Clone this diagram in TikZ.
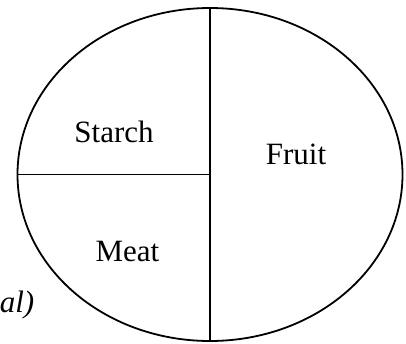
\documentclass[tikz,border=0pt]{standalone}
\usepackage{fontspec}
\setmainfont{Liberation Serif}
\usetikzlibrary{shapes.geometric}
\begin{document}
\begin{tikzpicture}[x=1pt,y=-1pt,
  outline/.style={line width=1.8pt,draw=black},
  label/.style={anchor=base,inner sep=0pt,font=\fontsize{31}{36}\selectfont,text=black}]
\useasboundingbox (0,0) rectangle (406,343);
\node[ellipse,outline,minimum width=385pt,minimum height=333pt,inner sep=0pt] (plate) at (210,174.5) {};
\coordinate (mid) at (plate.center);
\draw[outline] (plate.north) -- (plate.south);
\draw[outline] (plate.west) -- (mid);
\node[label] (starch) at (114,142) {Starch};
\node[label] (fruit) at (296,164) {Fruit};
\node[label] (meat) at (127.5,261) {Meat};
\node[label,anchor=base east,font=\fontsize{31}{36}\selectfont\itshape] (cut) at (34.5,312) {al)};
\end{tikzpicture}
\end{document}
